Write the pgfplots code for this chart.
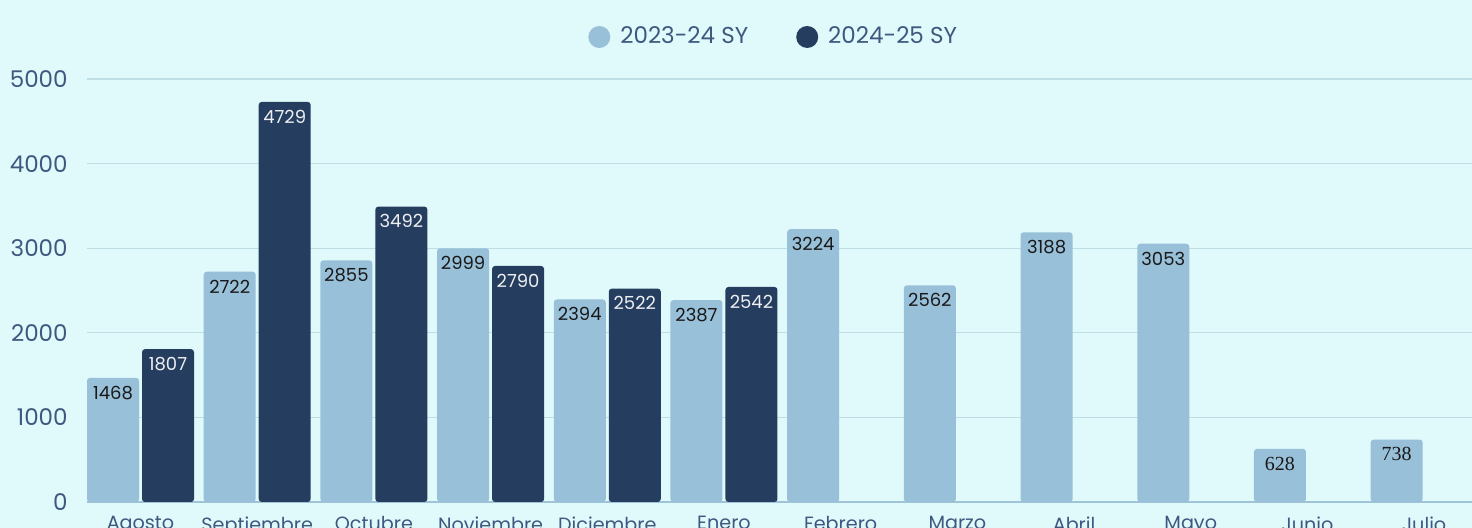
\documentclass[border=0pt]{standalone}
\usepackage{pgfplots}
\pgfplotsset{compat=1.18}
\usepackage{fontspec}
\setmainfont{Poppins}
\newfontfamily\serifnum{Liberation Serif}
\definecolor{bg}{RGB}{224,250,251}
\definecolor{lightbar}{RGB}{152,192,216}
\definecolor{darkbar}{RGB}{37,61,94}
\definecolor{tickcol}{RGB}{62,88,128}
\definecolor{gridcol}{RGB}{190,221,229}
\definecolor{axcol}{RGB}{160,196,215}
\begin{document}
\begin{tikzpicture}
\useasboundingbox (0,0) rectangle (736pt,264pt);
\fill[bg] (0,0) rectangle (736pt,264pt);
\clip (0,0) rectangle (736pt,264pt);
\begin{axis}[
  at={(43.5pt,13pt)}, anchor=south west,
  scale only axis, width=692.5pt, height=211.5pt,
  xmin=-0.4585, xmax=11.41, ymin=0, ymax=5000,
  /pgf/number format/assume math mode=true,
  /pgf/number format/1000 sep={},
  axis lines*=left,
  axis line style={-},
  y axis line style={draw=none},
  x axis line style={draw=axcol, line width=1pt},
  major tick length=0pt,
  ytick={0,1000,2000,3000,4000,5000},
  ymajorgrids, grid style={draw=gridcol, line width=0.6pt},
  xtick={0,...,11},
  xticklabels={Agosto,Septiembre,Octubre,Noviembre,Diciembre,Enero,Febrero,Marzo,Abril,Mayo,Junio,Julio},
  yticklabel style={font=\fontsize{11.5}{13}\selectfont, text=tickcol, inner sep=0pt, xshift=-9.5pt, anchor=east},
  xticklabel style={font=\fontsize{9.6}{11}\selectfont, text=tickcol, inner sep=0pt, yshift=-7pt, anchor=north},
  legend columns=2,
  legend style={at={(0.4965,1.0993)}, anchor=center, draw=none, fill=none,
    font=\fontsize{11.5}{13}\selectfont, text=tickcol,
    /tikz/every even column/.append style={column sep=22pt}},
]
\addplot[ybar, bar width=26pt, bar shift=-13.75pt, fill=lightbar, draw=none, rounded corners=1.5pt,
  legend image code/.code={\fill[lightbar] (5.5pt,0pt) circle (5.5pt); \path (14pt,0pt);},
  nodes near coords,
  every node near coord/.append style={anchor=north, xshift=-13.75pt, yshift=-0.5pt, font=\fontsize{9}{10}\selectfont, text=black!90}]
  coordinates {(0,1468) (1,2722) (2,2855) (3,2999) (4,2394) (5,2387) (6,3224) (7,2562) (8,3188) (9,3053)};
\addlegendentry{2023-24 SY}
\addplot[ybar, bar width=26pt, bar shift=13.75pt, fill=darkbar, draw=none, rounded corners=1.5pt,
  legend image code/.code={\fill[darkbar] (5.5pt,0pt) circle (5.5pt); \path (14pt,0pt);},
  nodes near coords,
  every node near coord/.append style={anchor=north, xshift=13.75pt, yshift=-0.5pt, font=\fontsize{9}{10}\selectfont, text=white!92!darkbar}]
  coordinates {(0,1807) (1,4729) (2,3492) (3,2790) (4,2522) (5,2542)};
\addlegendentry{2024-25 SY}
\addplot[ybar, bar width=26pt, bar shift=-13.75pt, fill=lightbar, draw=none, rounded corners=1.5pt, forget plot,
  nodes near coords={\serifnum\pgfmathprintnumber[assume math mode=true]{\pgfplotspointmeta}},
  every node near coord/.append style={anchor=north, xshift=-13.75pt, yshift=-0.5pt, font=\fontsize{10}{11}\selectfont, text=black!90}]
  coordinates {(10,628) (11,738)};
\end{axis}
\end{tikzpicture}
\end{document}
